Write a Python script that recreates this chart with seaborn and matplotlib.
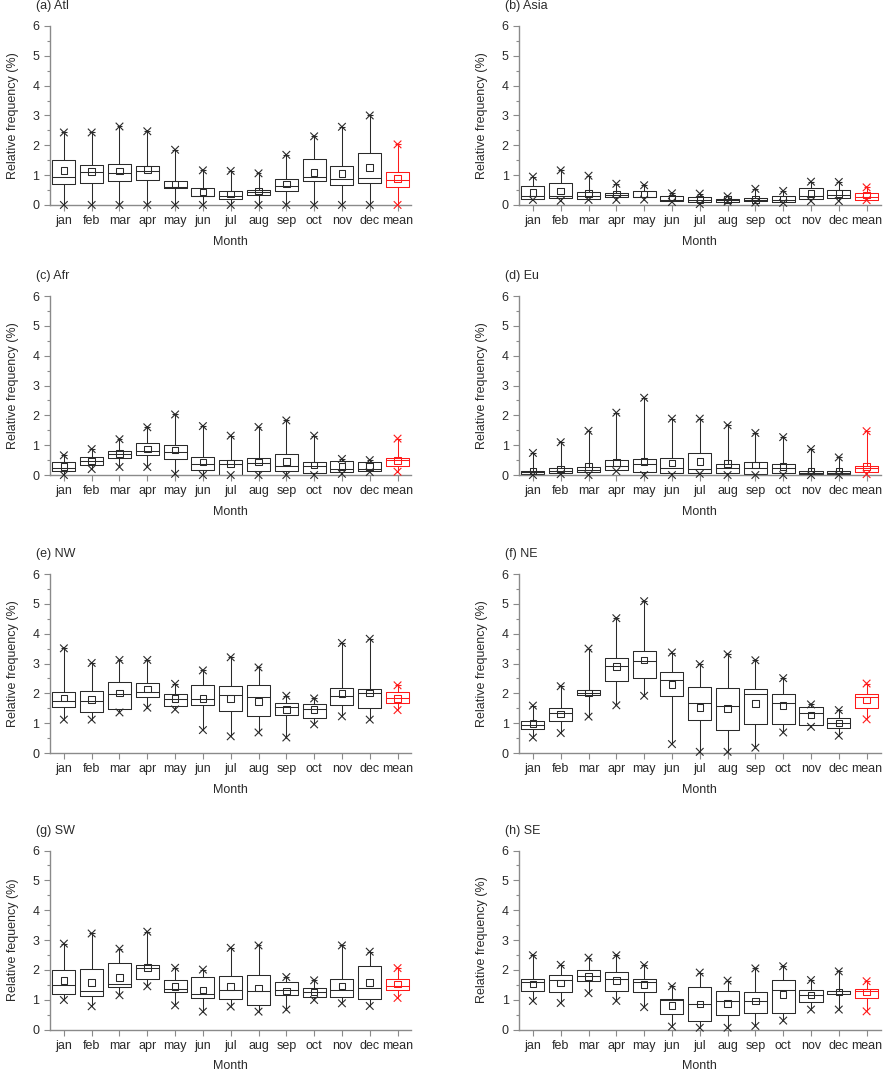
import numpy as np
import pandas as pd
import seaborn as sns
import matplotlib
matplotlib.use("Agg")
import matplotlib.pyplot as plt
from matplotlib.ticker import MultipleLocator

months = ['jan', 'feb', 'mar', 'apr', 'may', 'jun', 'jul', 'aug', 'sep', 'oct', 'nov', 'dec', 'mean']

# (a) Atl
atl_max = [2.43, 2.43, 2.63, 2.47, 1.85, 1.16, 1.14, 1.06, 1.68, 2.30, 2.62, 3.00, 2.03]
atl_min = [0, 0, 0, 0, 0, 0, 0, 0, 0, 0, 0, 0, 0]
atl_q3 = [1.49, 1.35, 1.38, 1.29, 0.79, 0.56, 0.48, 0.50, 0.86, 1.55, 1.29, 1.75, 1.10]
atl_q1 = [0.69, 0.74, 0.79, 0.82, 0.56, 0.29, 0.20, 0.33, 0.46, 0.79, 0.67, 0.74, 0.60]
atl_med = [0.94, 1.10, 1.06, 1.13, 0.61, 0.31, 0.30, 0.42, 0.62, 0.93, 0.87, 0.89, 0.83]
atl_mean = [1.15, 1.12, 1.14, 1.18, 0.71, 0.43, 0.37, 0.47, 0.71, 1.08, 1.06, 1.26, 0.88]

# (b) Asia
asia_max = [0.95, 1.16, 0.98, 0.71, 0.66, 0.39, 0.38, 0.29, 0.54, 0.47, 0.78, 0.77, 0.59]
asia_min = [0.17, 0.14, 0.17, 0.17, 0.18, 0.10, 0.03, 0.11, 0.08, 0.07, 0.13, 0.13, 0.16]
asia_q3 = [0.65, 0.72, 0.45, 0.40, 0.46, 0.29, 0.27, 0.21, 0.22, 0.29, 0.56, 0.51, 0.41]
asia_q1 = [0.20, 0.23, 0.20, 0.25, 0.26, 0.13, 0.09, 0.11, 0.12, 0.11, 0.19, 0.23, 0.17]
asia_med = [0.31, 0.29, 0.29, 0.32, 0.28, 0.18, 0.17, 0.17, 0.17, 0.18, 0.30, 0.33, 0.28]
asia_mean = [0.41, 0.46, 0.38, 0.36, 0.37, 0.23, 0.19, 0.19, 0.19, 0.20, 0.38, 0.38, 0.33]

# (c) Afr
afr_max = [0.66, 0.87, 1.20, 1.60, 2.03, 1.64, 1.32, 1.61, 1.83, 1.32, 0.54, 0.50, 1.22]
afr_min = [0, 0.20, 0.27, 0.27, 0.04, 0, 0, 0, 0, 0, 0.04, 0.10, 0.11]
afr_q3 = [0.42, 0.59, 0.82, 1.09, 0.99, 0.61, 0.52, 0.57, 0.69, 0.42, 0.47, 0.42, 0.58]
afr_q1 = [0.12, 0.33, 0.56, 0.67, 0.53, 0.16, 0.0, 0.13, 0.13, 0.08, 0.09, 0.13, 0.29]
afr_med = [0.22, 0.47, 0.72, 0.82, 0.76, 0.36, 0.36, 0.41, 0.31, 0.31, 0.21, 0.21, 0.52]
afr_mean = [0.28, 0.47, 0.72, 0.87, 0.84, 0.44, 0.39, 0.43, 0.46, 0.33, 0.28, 0.28, 0.48]

# (d) Eu
eu_max = [0.74, 1.10, 1.48, 2.09, 2.59, 1.89, 1.89, 1.67, 1.41, 1.27, 0.87, 0.59, 1.47]
eu_min = [0, 0.03, 0, 0.13, 0, 0, 0.04, 0, 0, 0, 0, 0, 0.03]
eu_q3 = [0.14, 0.24, 0.26, 0.51, 0.54, 0.58, 0.73, 0.38, 0.42, 0.36, 0.12, 0.12, 0.31]
eu_q1 = [0.04, 0.08, 0.09, 0.16, 0.09, 0.08, 0.08, 0.08, 0.04, 0.08, 0.04, 0.03, 0.09]
eu_med = [0.09, 0.13, 0.16, 0.30, 0.37, 0.24, 0.21, 0.22, 0.22, 0.22, 0.08, 0.07, 0.22]
eu_mean = [0.14, 0.20, 0.29, 0.42, 0.46, 0.40, 0.46, 0.38, 0.33, 0.28, 0.12, 0.12, 0.29]

# (e) NW
nw_max = [3.51, 3.02, 3.12, 3.12, 2.32, 2.77, 3.21, 2.87, 1.92, 1.83, 3.69, 3.83, 2.27]
nw_min = [1.12, 1.12, 1.36, 1.52, 1.46, 0.77, 0.56, 0.69, 0.52, 0.96, 1.23, 1.12, 1.44]
nw_q3 = [2.06, 2.09, 2.39, 2.36, 1.97, 2.29, 2.26, 2.29, 1.67, 1.66, 2.19, 2.16, 2.03]
nw_q1 = [1.53, 1.38, 1.48, 1.87, 1.58, 1.60, 1.40, 1.23, 1.27, 1.17, 1.60, 1.50, 1.67]
nw_med = [1.73, 1.73, 1.97, 2.03, 1.82, 1.82, 1.93, 1.87, 1.53, 1.49, 1.92, 2.00, 1.86]
nw_mean = [1.84, 1.79, 2.02, 2.14, 1.82, 1.82, 1.82, 1.72, 1.46, 1.46, 2.00, 2.02, 1.82]

# (f) NE
ne_max = [1.59, 2.24, 3.50, 4.52, 5.09, 3.37, 2.98, 3.31, 3.11, 2.51, 1.63, 1.44, 2.33]
ne_min = [0.52, 0.67, 1.22, 1.60, 1.92, 0.30, 0.04, 0.04, 0.18, 0.69, 0.88, 0.58, 1.13]
ne_q3 = [1.07, 1.50, 2.10, 3.20, 3.43, 2.72, 2.22, 2.19, 2.14, 1.97, 1.53, 1.16, 1.99]
ne_q1 = [0.80, 1.08, 1.94, 2.40, 2.50, 1.91, 1.10, 0.77, 0.99, 0.99, 0.94, 0.84, 1.50]
ne_med = [0.94, 1.33, 2.00, 2.92, 3.09, 2.44, 1.69, 1.56, 1.98, 1.69, 1.34, 1.00, 1.88]
ne_mean = [0.99, 1.31, 2.02, 2.90, 3.12, 2.30, 1.52, 1.50, 1.66, 1.59, 1.27, 1.01, 1.78]

# (g) SW
sw_max = [2.88, 3.22, 2.71, 3.28, 2.07, 2.01, 2.74, 2.82, 1.76, 1.65, 2.82, 2.61, 2.06]
sw_min = [0.99, 0.78, 1.15, 1.45, 0.81, 0.60, 0.77, 0.60, 0.67, 0.99, 0.88, 0.79, 1.06]
sw_q3 = [2.00, 2.04, 2.23, 2.16, 1.66, 1.76, 1.79, 1.83, 1.58, 1.38, 1.69, 2.13, 1.69]
sw_q1 = [1.19, 1.13, 1.43, 1.69, 1.26, 1.05, 1.03, 0.82, 1.16, 1.09, 1.09, 1.03, 1.34]
sw_med = [1.49, 1.29, 1.53, 2.06, 1.36, 1.20, 1.33, 1.29, 1.34, 1.26, 1.33, 1.39, 1.46]
sw_mean = [1.64, 1.58, 1.74, 2.08, 1.45, 1.32, 1.45, 1.40, 1.29, 1.26, 1.46, 1.58, 1.52]

# (h) SE
se_max = [2.49, 2.17, 2.41, 2.49, 2.16, 1.45, 1.91, 1.64, 2.05, 2.12, 1.66, 1.95, 1.62]
se_min = [0.96, 0.89, 1.22, 0.96, 0.75, 0.10, 0.06, 0.06, 0.12, 0.30, 0.67, 0.67, 0.61]
se_q3 = [1.69, 1.82, 2.00, 1.93, 1.69, 1.03, 1.42, 1.29, 1.26, 1.65, 1.34, 1.30, 1.35]
se_q1 = [1.29, 1.26, 1.63, 1.29, 1.26, 0.52, 0.29, 0.49, 0.56, 0.56, 0.91, 1.20, 1.07]
se_med = [1.59, 1.65, 1.81, 1.69, 1.61, 0.99, 0.86, 0.97, 0.97, 1.33, 1.16, 1.28, 1.29]
se_mean = [1.52, 1.56, 1.77, 1.64, 1.51, 0.81, 0.85, 0.88, 0.95, 1.17, 1.15, 1.26, 1.26]

ylab = 'Relative frequency (%)'
panels = [
    ('(a) Atl', atl_min, atl_q1, atl_med, atl_q3, atl_max, atl_mean, ylab),
    ('(b) Asia', asia_min, asia_q1, asia_med, asia_q3, asia_max, asia_mean, ylab),
    ('(c) Afr', afr_min, afr_q1, afr_med, afr_q3, afr_max, afr_mean, ylab),
    ('(d) Eu', eu_min, eu_q1, eu_med, eu_q3, eu_max, eu_mean, ylab),
    ('(e) NW', nw_min, nw_q1, nw_med, nw_q3, nw_max, nw_mean, ylab),
    ('(f) NE', ne_min, ne_q1, ne_med, ne_q3, ne_max, ne_mean, ylab),
    ('(g) SW', sw_min, sw_q1, sw_med, sw_q3, sw_max, sw_mean, 'Relative fequency (%)'),
    ('(h) SE', se_min, se_q1, se_med, se_q3, se_max, se_mean, ylab),
]

sns.set_style("ticks")
plt.rcParams['font.family'] = ['Liberation Sans', 'DejaVu Sans']

dark = '#2a2a2a'
pal = {m: dark for m in months[:12]}
pal['mean'] = '#ff1a1a'
axis_col = '#8a8a8a'
txt_col = '#2a2a2a'

fig = plt.figure(figsize=(8.86, 10.73), dpi=100)
lefts = [0.0564, 0.5858]
width = 0.4080
bottoms = [0.809, 0.5573, 0.2982, 0.0405]
height = 0.1668

pos = np.arange(len(months))

for k, (title, lo, q1, med, q3, hi, avg, yl) in enumerate(panels):
    ax = fig.add_axes([lefts[k % 2], bottoms[k // 2], width, height])

    # five values per month -> exact box stats with linear quantiles
    rows = []
    for i, m in enumerate(months):
        for v in (lo[i], q1[i], med[i], q3[i], hi[i]):
            rows.append({'Month': m, 'value': v})
    df = pd.DataFrame(rows)

    sns.boxplot(data=df, x='Month', y='value', hue='Month', order=months,
                hue_order=months, palette=pal, fill=False, width=0.83,
                whis=(0, 100), linewidth=0.75, showcaps=False, legend=False, ax=ax)

    # max / min markers and mean squares
    sns.scatterplot(x=pos, y=hi, hue=months, palette=pal, marker='x', s=30,
                    linewidth=0.8, legend=False, ax=ax, clip_on=False, zorder=5)
    sns.scatterplot(x=pos, y=hi, hue=months, palette=pal, marker='_', s=18,
                    linewidth=0.8, legend=False, ax=ax, clip_on=False, zorder=5)
    sns.scatterplot(x=pos, y=lo, hue=months, palette=pal, marker='x', s=30,
                    linewidth=0.8, legend=False, ax=ax, clip_on=False, zorder=5)
    sns.scatterplot(x=pos, y=avg, hue=months, palette=pal, marker='s', s=22,
                    legend=False, ax=ax, zorder=6)
    sq = ax.collections[-1]
    sq.set_edgecolor(sq.get_facecolor())
    sq.set_facecolor('none')
    sq.set_linewidth(0.75)

    ax.set_xlim(-0.5, 12.5)
    ax.set_ylim(0, 6)
    ax.set_xticks(pos)
    ax.set_xticklabels(months)
    ax.set_yticks(range(7))
    ax.yaxis.set_minor_locator(MultipleLocator(0.5))
    for side in ['top', 'right']:
        ax.spines[side].set_visible(False)
    for side in ['left', 'bottom']:
        ax.spines[side].set_color(axis_col)
        ax.spines[side].set_linewidth(1.0)
    ax.tick_params(axis='both', which='major', direction='out', length=4, width=0.8,
                   color=axis_col, labelsize=9, labelcolor=txt_col)
    ax.tick_params(axis='y', which='minor', direction='out', length=2.5, width=0.8,
                   color=axis_col)
    ax.set_xlabel('Month', fontsize=9, color=txt_col, labelpad=6)
    ax.set_ylabel(yl, fontsize=9, color=txt_col, labelpad=10)
    ax.text(-0.04, 1.11, title, transform=ax.transAxes, fontsize=9,
            color=txt_col, ha='left', va='center')

fig.savefig('out.png', dpi=100)
